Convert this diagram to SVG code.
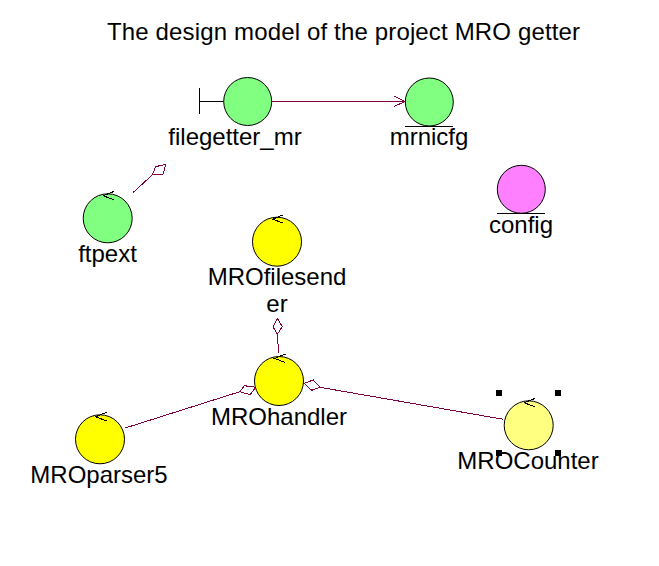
<svg xmlns="http://www.w3.org/2000/svg" xmlns:xlink="http://www.w3.org/1999/xlink" width="659" height="566" viewBox="0 0 659 566">
<style>
text{font-family:"Liberation Sans",Arial,sans-serif;font-size:24px;fill:#000;text-anchor:middle}
.c{stroke:#000;stroke-width:1}
.g{fill:#80ff80}.y{fill:#ffff00}.ly{fill:#ffff80}.p{fill:#ff80ff}
.l{stroke:#000;stroke-width:1;fill:none;shape-rendering:crispEdges}
.k{stroke:#800040;stroke-width:1;fill:none;shape-rendering:crispEdges}
.h{fill:#000}
</style>
<defs>
<path id="ctl" class="l" d="M6.500,-27L-4.500,-22.500L6.500,-18.500"/>
</defs>
<rect width="659" height="566" fill="#fff"/>
<text x="343.500" y="40" textLength="473">The design model of the project MRO getter</text>
<g id="connectors">
<path class="k" d="M272,101.500H405M394,96L405,101.500L394,106.500"/>
<path class="k" d="M133.300,192.300L152.300,175L155.700,166.700L165.700,164.300L163.300,174L152.300,175"/>
<path class="k" d="M278.700,353.300L277.300,334.300L273,326.700L277.300,318.300L282.300,326.700L277.300,334.300"/>
<path class="k" d="M125.300,428L239.700,391.700L244.300,385.700L255.700,387.300L250,394.700L239.700,391.700"/>
<path class="k" d="M503.300,419.300L320,387.300L313.300,380L304,383.300L311.700,390.300L320,387.300"/>
</g>
<g id="filegetter_mr"><path class="l" d="M199.500,88V113.500M199.500,101.500H223.500"/><circle class="c g" cx="247.700" cy="101.500" r="24"/><text x="235" y="145">filegetter_mr</text></g>
<g id="mrnicfg"><circle class="c g" cx="429.300" cy="102" r="24"/><path class="l" d="M405,126.500H453"/><text x="429" y="145">mrnicfg</text></g>
<g id="config"><circle class="c p" cx="521.300" cy="189.300" r="24"/><path class="l" d="M497,213.500H545"/><text x="521" y="233">config</text></g>
<g id="ftpext"><circle class="c g" cx="107.700" cy="218.300" r="24.500"/><use xlink:href="#ctl" href="#ctl" x="107.700" y="218.300"/><text x="107.500" y="262">ftpext</text></g>
<g id="MROfilesender"><circle class="c y" cx="277" cy="241.700" r="24.500"/><use xlink:href="#ctl" href="#ctl" x="277" y="241.700"/><text x="277" y="285">MROfilesend</text><text x="277" y="312">er</text></g>
<g id="MROhandler"><circle class="c y" cx="279" cy="381" r="24.500"/><use xlink:href="#ctl" href="#ctl" x="279" y="381"/><text x="279" y="425">MROhandler</text></g>
<g id="MROparser5"><circle class="c y" cx="100" cy="439.300" r="24.500"/><use xlink:href="#ctl" href="#ctl" x="100" y="439.300"/><text x="99" y="483">MROparser5</text></g>
<g id="MROCounter"><circle class="c ly" cx="528.700" cy="425.300" r="24.500"/><use xlink:href="#ctl" href="#ctl" x="528.700" y="425.300"/>
<rect class="h" x="496" y="390" width="6" height="6"/><rect class="h" x="555" y="390" width="6" height="6"/><rect class="h" x="496" y="450" width="6" height="6"/><rect class="h" x="555" y="450" width="6" height="6"/>
<text x="528" y="469">MROCounter</text></g>
</svg>
